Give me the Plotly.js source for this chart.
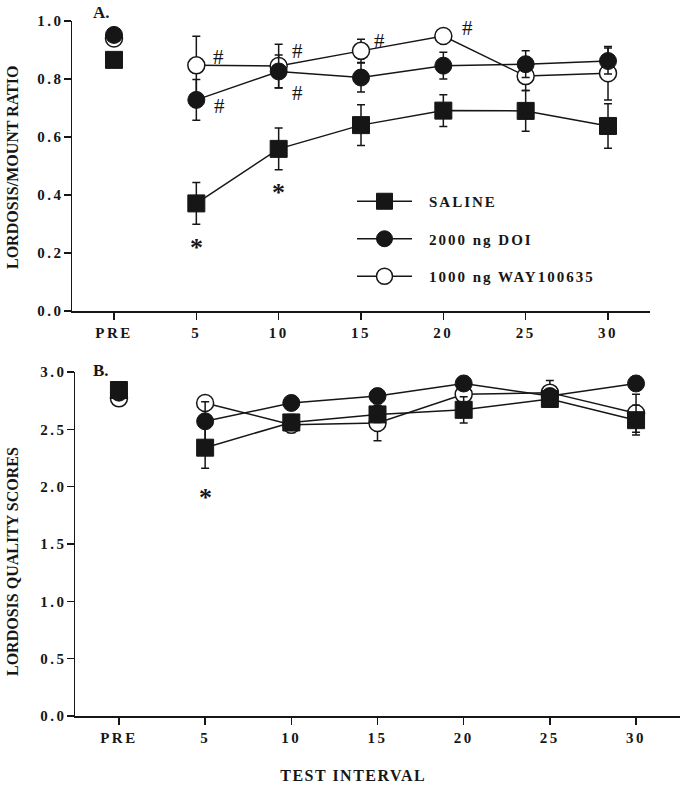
<!DOCTYPE html>
<html>
<head>
<meta charset="utf-8">
<script src="https://cdn.plot.ly/plotly-3.0.1.min.js"></script>
<style>
  html, body { margin: 0; padding: 0; background: #fff; }
  #chart { width: 684px; height: 787px; }
  .xtick text, .x2tick text, .ytick text, .y2tick text { letter-spacing: 2.5px; }
  .legendtext { letter-spacing: 2px; }
</style>
</head>
<body>
<div id="chart"></div>
<script>
// ---------- data ----------
const categories = ["PRE", "5", "10", "15", "20", "25", "30"];
const tickLabels = ["PRE", "5", "10", "15", "20", "25", "30"];

const seriesNames = ["SALINE", "2000 ng DOI", "1000 ng WAY100635"];

// Panel A: lordosis/mount ratio
const salineA    = [0.866, 0.371, 0.559, 0.641, 0.691, 0.690, 0.638];
const salineAErr = [0, 0.072, 0.072, 0.070, 0.055, 0.070, 0.077];
const doiA       = [0.952, 0.728, 0.826, 0.805, 0.846, 0.851, 0.862];
const doiAErr    = [0, 0.070, 0.057, 0.050, 0.046, 0.046, 0.045];
const wayA       = [0.940, 0.847, 0.845, 0.897, 0.948, 0.810, 0.820];
const wayAErr    = [0, 0.100, 0.075, 0.040, 0.020, 0.050, 0.092];

// Panel B: lordosis quality scores
const salineB    = [2.843, 2.340, 2.560, 2.630, 2.670, 2.765, 2.580];
const salineBErr = [0, 0.180, 0.070, 0.070, 0.115, 0.070, 0.130];
const doiB       = [2.820, 2.570, 2.730, 2.790, 2.900, 2.790, 2.900];
const doiBErr    = [0, 0.170, 0.060, 0.060, 0.060, 0.060, 0.060];
const wayB       = [2.770, 2.730, 2.540, 2.555, 2.805, 2.820, 2.640];
const wayBErr    = [0, 0.060, 0.070, 0.155, 0.070, 0.105, 0.165];

const yTicksA = [0, 0.2, 0.4, 0.6, 0.8, 1.0];
const yTickTextA = ["0.0", "0.2", "0.4", "0.6", "0.8", "1.0"];
const yTicksB = [0, 0.5, 1.0, 1.5, 2.0, 2.5, 3.0];
const yTickTextB = ["0.0", "0.5", "1.0", "1.5", "2.0", "2.5", "3.0"];

// ---------- styling ----------
const INK = "#161616";
const SERIF = "Liberation Serif, Times New Roman, serif";

function markerFor(kind) {
  return kind === "square"
    ? { symbol: "square", size: 17, color: INK, line: { color: INK, width: 1 } }
    : kind === "filled"
      ? { symbol: "circle", size: 17, color: INK, line: { color: INK, width: 1 } }
      : { symbol: "circle", size: 17, color: "#ffffff", line: { color: INK, width: 1.5 } };
}

// PRE is drawn as an isolated point, the test intervals as a connected line
function mkTraces(y, err, kind, xa, ya, name, rank, showleg) {
  const eb = arr => ({ type: "data", array: arr, visible: true, color: INK, thickness: 1.5, width: 4 });
  const pre = {
    type: "scatter", mode: "markers",
    x: categories.slice(0, 1), y: y.slice(0, 1), xaxis: xa, yaxis: ya,
    name: name, showlegend: false, marker: markerFor(kind),
    error_y: eb(err.slice(0, 1)), cliponaxis: false, hoverinfo: "skip"
  };
  const main = {
    type: "scatter", mode: "lines+markers",
    x: categories.slice(1), y: y.slice(1), xaxis: xa, yaxis: ya,
    name: name, showlegend: showleg, legendrank: rank, legendgroup: name,
    line: { color: INK, width: 1.5 }, marker: markerFor(kind),
    error_y: eb(err.slice(1)), cliponaxis: false, hoverinfo: "skip"
  };
  return [pre, main];
}

// draw order: WAY first, DOI, then SALINE on top
const data = [].concat(
  mkTraces(wayA, wayAErr, "open", "x", "y", seriesNames[2], 3, true),
  mkTraces(doiA, doiAErr, "filled", "x", "y", seriesNames[1], 2, true),
  mkTraces(salineA, salineAErr, "square", "x", "y", seriesNames[0], 1, true),
  mkTraces(wayB, wayBErr, "open", "x2", "y2", seriesNames[2], 3, false),
  mkTraces(doiB, doiBErr, "filled", "x2", "y2", seriesNames[1], 2, false),
  mkTraces(salineB, salineBErr, "square", "x2", "y2", seriesNames[0], 1, false)
);

const W = 684, H = 787;
const px = v => v / W;
const py = v => 1 - v / H;

const tickFont = { family: SERIF, size: 15, color: INK, weight: "bold" };

function xAxis(domain, anchor) {
  return {
    type: "category", domain: domain, anchor: anchor,
    categoryorder: "array", categoryarray: categories,
    range: [-0.51, 6.51],
    tickvals: categories, ticktext: tickLabels,
    showline: true, linecolor: INK, linewidth: 1.5,
    ticks: "outside", ticklen: 7, tickwidth: 1.5, tickcolor: INK,
    showgrid: false, zeroline: false, fixedrange: true,
    tickfont: tickFont
  };
}
function yAxis(domain, anchor, range, tv, tt) {
  return {
    domain: domain, anchor: anchor, range: range,
    tickvals: tv, ticktext: tt,
    showline: true, linecolor: INK, linewidth: 1.5,
    ticks: "outside", ticklen: 7, tickwidth: 1.5, tickcolor: INK,
    showgrid: false, zeroline: false, fixedrange: true,
    tickfont: tickFont
  };
}

// annotations on a category axis are placed by category index
function hashAnn(xi, yv, xs, ys, xref, yref) {
  return { x: xi, y: yv, xref: xref, yref: yref, text: "#",
           showarrow: false, xshift: xs, yshift: ys,
           font: { family: SERIF, size: 21, color: INK } };
}
function starAnn(xi, yv, ys, xref, yref) {
  return { x: xi, y: yv, xref: xref, yref: yref, text: "*",
           showarrow: false, yshift: ys,
           font: { family: SERIF, size: 26, color: INK, weight: "bold" } };
}

const annotations = [
  hashAnn(1, wayA[1], 22, 8, "x", "y"),
  hashAnn(1, doiA[1], 23, -6, "x", "y"),
  hashAnn(2, wayA[2], 19, 15, "x", "y"),
  hashAnn(2, doiA[2], 19, -22, "x", "y"),
  hashAnn(3, wayA[3], 18, 10, "x", "y"),
  hashAnn(4, wayA[4], 24, 8, "x", "y"),
  starAnn(1, salineA[1], -44, "x", "y"),
  starAnn(2, salineA[2], -44, "x", "y"),
  starAnn(1, salineB[1], -50, "x2", "y2"),
  { x: px(91), y: py(13), xref: "paper", yref: "paper", xanchor: "left", yanchor: "middle",
    text: "A.", showarrow: false, font: { family: SERIF, size: 17, color: INK, weight: "bold" } },
  { x: px(91), y: py(370), xref: "paper", yref: "paper", xanchor: "left", yanchor: "middle",
    text: "B.", showarrow: false, font: { family: SERIF, size: 17, color: INK, weight: "bold" } },
  { x: px(12), y: py(168), xref: "paper", yref: "paper", xanchor: "center", yanchor: "middle",
    textangle: -90, text: "LORDOSIS/MOUNT RATIO", showarrow: false,
    font: { family: SERIF, size: 16, color: INK, weight: "bold" } },
  { x: px(12), y: py(562), xref: "paper", yref: "paper", xanchor: "center", yanchor: "middle",
    textangle: -90, text: "LORDOSIS QUALITY SCORES", showarrow: false,
    font: { family: SERIF, size: 16, color: INK, weight: "bold" } },
  { x: px(353), y: py(775), xref: "paper", yref: "paper", xanchor: "center", yanchor: "middle",
    text: "TEST INTERVAL", showarrow: false,
    font: { family: SERIF, size: 16, color: INK, weight: "bold" } }
];

const layout = {
  width: W, height: H,
  margin: { l: 0, r: 0, t: 0, b: 0, pad: 0 },
  paper_bgcolor: "#ffffff", plot_bgcolor: "#ffffff",
  showlegend: true,
  legend: {
    x: px(352), y: py(185), xanchor: "left", yanchor: "top",
    traceorder: "grouped", tracegroupgap: 15,
    itemwidth: 55, itemsizing: "trace",
    bgcolor: "rgba(0,0,0,0)", borderwidth: 0,
    font: { family: SERIF, size: 15, color: INK, weight: "bold" }
  },
  xaxis: xAxis([px(72), px(650)], "y"),
  yaxis: yAxis([py(311), py(21)], "x", [0, 1.0], yTicksA, yTickTextA),
  xaxis2: xAxis([px(75), px(680)], "y2"),
  yaxis2: yAxis([py(716), py(372)], "x2", [0, 3.0], yTicksB, yTickTextB),
  annotations: annotations
};

Plotly.newPlot("chart", data, layout, { staticPlot: true, displayModeBar: false }).then(gd => {
  // the legend is not clipped, so the wider letter-spaced text stays whole
  gd.querySelectorAll(".legend, .legend [clip-path]").forEach(el => el.removeAttribute("clip-path"));
  // legend text sits a little further from the symbol in the original
  gd.querySelectorAll(".legendtext").forEach(t => {
    t.setAttribute("x", String(parseFloat(t.getAttribute("x") || "0") + 12));
  });
  // tick labels of the value axes sit a bit closer to the ticks
  gd.querySelectorAll(".ytick text, .y2tick text").forEach(t => {
    t.setAttribute("x", String(parseFloat(t.getAttribute("x") || "0") + 3));
  });
  gd.querySelectorAll(".annotation-text").forEach(t => {
    if (t.textContent === "TEST INTERVAL") t.style.letterSpacing = "1.5px";
  });
});
</script>
</body>
</html>
